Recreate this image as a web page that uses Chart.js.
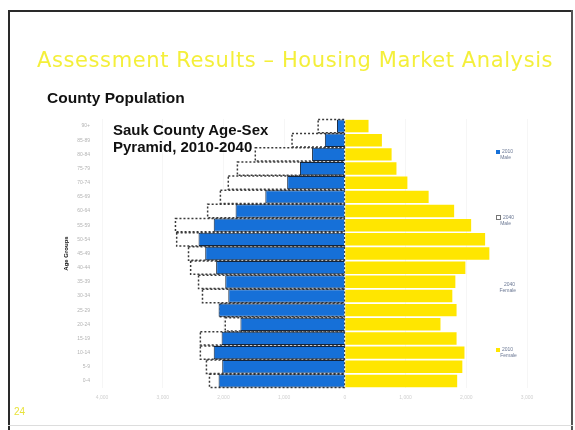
<!DOCTYPE html>
<html>
<head>
<meta charset="utf-8">
<script src="https://cdn.jsdelivr.net/npm/chart.js@4.4.1/dist/chart.umd.min.js"></script>
<style>
  html, body { margin: 0; padding: 0; background: #fff; }
  #slide { position: relative; width: 575px; height: 430px; overflow: hidden; font-family: "Liberation Sans", Arial, sans-serif; }
  #chart { position: absolute; left: 0; top: 0; }
  .line { position: absolute; background: #2a2a2a; }
  .txt { position: absolute; white-space: nowrap; }
  .leg { position: absolute; font-size: 5px; line-height: 6px; color: #6b7894; }
  .leg i { display: inline-block; width: 4px; height: 4px; margin-right: 2px; vertical-align: middle; }
</style>
</head>
<body>
<div id="slide">
  <canvas id="chart" width="575" height="430"></canvas>

  <!-- slide frame -->
  <div class="line" style="left:8px; top:10px; width:565px; height:2px;"></div>
  <div class="line" style="left:8px; top:10px; width:2px; height:420px;"></div>
  <div class="line" style="left:571px; top:10px; width:2px; height:420px; background:#555;"></div>
  <div class="line" style="left:8px; top:425px; width:565px; height:1px; background:#ddd;"></div>

  <div class="txt" style="left:37px; top:50px; font-family:'DejaVu Sans'; font-size:21px; line-height:21px; color:#f4ef3a; letter-spacing:0.6px;">Assessment Results – Housing Market Analysis</div>
  <div class="txt" style="left:47px; top:90px; font-size:15.5px; line-height:16px; font-weight:bold; color:#111;">County Population</div>
  <div class="txt" style="left:113px; top:121px; font-size:15px; line-height:17px; font-weight:bold; color:#111;">Sauk County Age-Sex<br>Pyramid, 2010-2040</div>

  <div class="leg" style="left:496px; top:148px;"><i style="background:#1670d8;"></i>2010<br>&nbsp;&nbsp;&nbsp;Male</div>
  <div class="leg" style="left:496px; top:214px;"><i style="background:#fff; border:1px dashed #777; width:3px; height:3px;"></i>2040<br>&nbsp;&nbsp;&nbsp;Male</div>
  <div class="leg" style="left:498px; top:281px;"><i style="background:#fff;"></i>2040<br>&nbsp;Female</div>
  <div class="leg" style="left:496px; top:346px;"><i style="background:#ffe600;"></i>2010<br>&nbsp;&nbsp;&nbsp;Female</div>

  <div class="txt" style="left:14px; top:406px; font-size:10px; color:#e8e23a;">24</div>
</div>

<script>
// Age groups, bottom (youngest) to top
const ageGroups = ['0-4', '5-9', '10-14', '15-19', '20-24', '25-29', '30-34', '35-39', '40-44',
  '45-49', '50-54', '55-59', '60-64', '65-69', '70-74', '75-79', '80-84', '85-89', '90+'];

// Values
const male2010 = [2080, 2020, 2160, 2030, 1720, 2080, 1920, 1970, 2120, 2300, 2410, 2160, 1800, 1310, 950, 740, 540, 330, 130];
const male2040 = [2230, 2280, 2380, 2380, 1970, 2050, 2345, 2410, 2540, 2575, 2770, 2790, 2260, 2050, 1920, 1770, 1475, 870, 440];
const female2010 = [1850, 1935, 1970, 1840, 1575, 1840, 1770, 1820, 1985, 2380, 2310, 2080, 1800, 1380, 1030, 850, 770, 610, 390];

const xMin = -4000;
const xMax = 3000;
const xStep = 1000;

// dashed outline for the projection bars (bar element can't dash its border)
const dashedOutline = {
  id: 'dashedOutline',
  afterDatasetDraw(chart, args) {
    if (args.index !== 1) return;
    const ctx = chart.ctx;
    ctx.save();
    ctx.setLineDash([2, 2]);
    ctx.lineWidth = 1.5;
    ctx.strokeStyle = '#3a3a3a';
    args.meta.data.forEach(bar => {
      const p = bar.getProps(['x', 'y', 'base', 'height'], true);
      ctx.strokeRect(Math.min(p.x, p.base), p.y - p.height / 2, Math.abs(p.x - p.base), p.height);
    });
    ctx.restore();
  }
};

const ctx = document.getElementById('chart').getContext('2d');
new Chart(ctx, {
  type: 'bar',
  data: {
    labels: ageGroups,
    datasets: [
      {
        label: '2010 Male',
        data: male2010.map(v => -v),
        backgroundColor: '#1670d8',
        borderColor: '#14243a',
        borderWidth: 1,
        grouped: false,
        barPercentage: 0.94,
        categoryPercentage: 1
      },
      {
        label: '2040 Male',
        data: male2040.map(v => -v),
        backgroundColor: '#ffffff',
        borderWidth: 0,
        grouped: false,
        barPercentage: 0.94,
        categoryPercentage: 1
      },
      {
        label: '2010 Female',
        data: female2010,
        backgroundColor: '#ffe600',
        borderWidth: 0,
        grouped: false,
        barPercentage: 0.88,
        categoryPercentage: 1
      }
    ]
  },
  options: {
    indexAxis: 'y',
    responsive: false,
    animation: false,
    layout: { padding: { left: 63, top: 119, right: 48, bottom: 22 } },
    plugins: {
      legend: { display: false },
      tooltip: { enabled: false }
    },
    scales: {
      x: {
        min: xMin,
        max: xMax,
        ticks: {
          stepSize: xStep,
          color: '#cfcfcf',
          font: { size: 5 },
          padding: 7,
          callback: v => Math.abs(v).toLocaleString('en-US')
        },
        grid: { color: 'rgba(0,0,0,0.035)', drawTicks: false },
        border: { display: false },
        afterFit: s => { s.height = 20; }
      },
      y: {
        reverse: true,
        ticks: { color: '#b3b3b3', font: { size: 5 }, padding: 4 },
        grid: { display: false },
        border: { display: false },
        title: { display: true, text: 'Age Groups', color: '#111', font: { size: 6, weight: 'bold' }, padding: 0 },
        afterFit: s => { s.width = 39; }
      }
    }
  },
  plugins: [dashedOutline]
});
</script>
</body>
</html>
